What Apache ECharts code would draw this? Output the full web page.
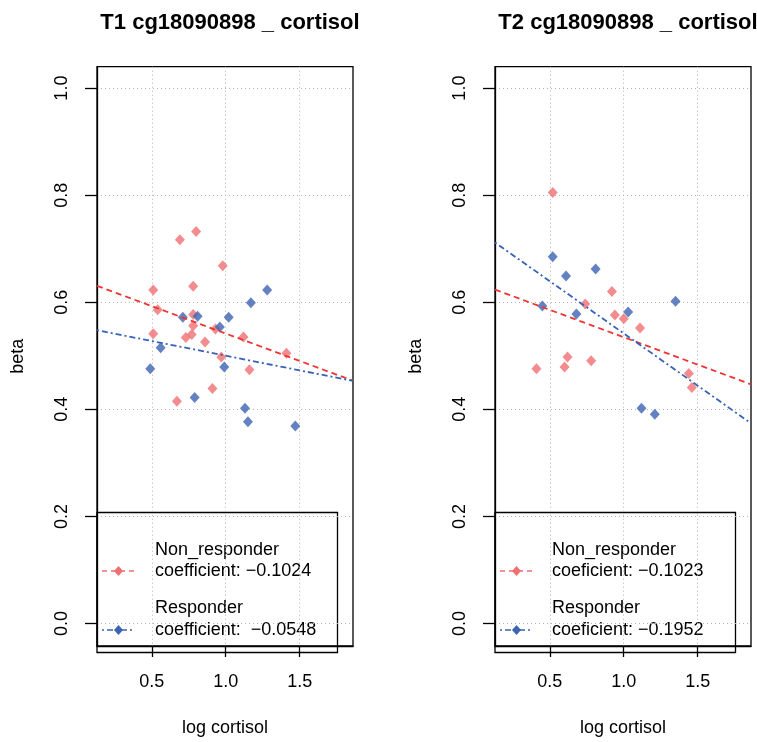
<!DOCTYPE html>
<html>
<head>
<meta charset="utf-8">
<script src="https://cdn.jsdelivr.net/npm/echarts@6/dist/echarts.min.js"></script>
<style>
  html, body { margin: 0; padding: 0; background: #fff; }
  #chart { width: 757px; height: 742px; }
</style>
</head>
<body>
<div id="chart"></div>
<script>
// tick labels
const xTicks = [0.5, 1.0, 1.5];
const yTicks = [0.0, 0.2, 0.4, 0.6, 0.8, 1.0];
const titles = ['T1 cg18090898 _ cortisol', 'T2 cg18090898 _ cortisol'];

// T1 points
const t1NonX = [0.80, 0.69, 0.98, 0.51, 0.78, 0.54, 0.78, 0.78, 0.51, 0.77, 0.73, 0.86, 0.93, 1.12, 1.41, 0.97, 1.16, 0.91, 0.67];
const t1NonY = [0.732, 0.717, 0.668, 0.623, 0.630, 0.586, 0.577, 0.556, 0.541, 0.540, 0.534, 0.526, 0.550, 0.535, 0.505, 0.498, 0.474, 0.439, 0.415];
const t1ResX = [1.28, 1.17, 0.71, 0.81, 1.02, 0.96, 0.56, 0.49, 0.99, 0.79, 1.13, 1.15, 1.47];
const t1ResY = [0.623, 0.599, 0.572, 0.574, 0.572, 0.554, 0.515, 0.476, 0.479, 0.422, 0.402, 0.377, 0.369];

// T2 points
const t2NonX = [0.52, 0.92, 0.74, 0.94, 1.00, 1.11, 0.62, 0.78, 0.41, 0.60, 1.44, 1.46];
const t2NonY = [0.805, 0.620, 0.597, 0.576, 0.569, 0.552, 0.498, 0.491, 0.476, 0.479, 0.467, 0.441];
const t2ResX = [0.52, 0.81, 0.61, 0.45, 0.68, 1.03, 1.35, 1.12, 1.21];
const t2ResY = [0.685, 0.662, 0.649, 0.593, 0.578, 0.582, 0.602, 0.402, 0.391];

// regression lines [non_responder, responder]
const t1Intercept = [0.644, 0.555];
const t1Slope = [-0.1024, -0.0548];
const t2Intercept = [0.637, 0.737];
const t2Slope = [-0.1023, -0.1952];

const t1Legend = ['coefficient: \u22120.1024', 'coefficient:  \u22120.0548'];
const t2Legend = ['coeficient: \u22120.1023', 'coeficient: \u22120.1952'];

const X_MIN = 0.13, X_MAX = 1.86;
const Y_MIN = -0.042, Y_MAX = 1.04;

const RED = '#ef6f72';
const BLUE = '#3d63b2';
const RED_LINE = '#f03434';
const BLUE_LINE = '#3762b8';
const FONT = '"Liberation Sans", Arial, sans-serif';

const zip = (xs, ys) => xs.map((x, i) => [x, ys[i]]);
const abline = (a, b) => [[X_MIN, a + b * X_MIN], [X_MAX, a + b * X_MAX]];

const panelLeft = [97, 495];
const gridWidth = 256;
const gridLine = { show: true, lineStyle: { color: '#b4b4b4', type: [1, 3], width: 1 } };

function xAxisFor(i) {
  return {
    type: 'value', gridIndex: i, min: X_MIN, max: X_MAX,
    name: 'log cortisol', nameLocation: 'middle', nameGap: 73,
    nameTextStyle: { fontSize: 18, color: '#000', fontFamily: FONT },
    axisLine: { show: true, onZero: false, lineStyle: { color: '#000', width: 1.3 } },
    axisTick: { show: true, customValues: xTicks, length: 11, lineStyle: { color: '#000', width: 1.3 } },
    axisLabel: { customValues: xTicks, formatter: v => v.toFixed(1), fontSize: 18, color: '#000', margin: 27, fontFamily: FONT },
    splitLine: gridLine
  };
}

function yAxisFor(i) {
  return {
    type: 'value', gridIndex: i, min: Y_MIN, max: Y_MAX,
    name: 'beta', nameLocation: 'middle', nameGap: 70, nameRotate: 90,
    nameTextStyle: { fontSize: 18, color: '#000', fontFamily: FONT },
    axisLine: { show: true, onZero: false, lineStyle: { color: '#000', width: 1.3 } },
    axisTick: { show: true, customValues: yTicks, length: 12, lineStyle: { color: '#000', width: 1.3 } },
    axisLabel: { customValues: yTicks, rotate: 90, formatter: v => v.toFixed(1), fontSize: 18, color: '#000', margin: 26, fontFamily: FONT },
    splitLine: gridLine
  };
}

function pointSeries(i, data, color) {
  return {
    type: 'scatter', xAxisIndex: i, yAxisIndex: i, data,
    symbol: 'diamond', symbolSize: [10, 11],
    itemStyle: { color }, z: 3, silent: true
  };
}

function lineSeries(i, data, color, dash) {
  return {
    type: 'line', xAxisIndex: i, yAxisIndex: i, data,
    symbol: 'none', lineStyle: { color, width: 1.8, type: dash }, z: 4, silent: true
  };
}

function legendGraphics(left, sampleX, textX, labels) {
  const top = 512.5, bottom = 652.5, right = left + 240.5;
  const font = '18px ' + FONT;
  const els = [{
    type: 'rect', z: -1,
    shape: { x: left, y: top, width: right - left, height: bottom - top },
    style: { fill: '#fff', stroke: '#000', lineWidth: 1.3 }
  }];
  const rows = [
    { name: 'Non_responder', coef: labels[0], y1: 550, y2: 571, color: RED, dash: [5, 4] },
    { name: 'Responder', coef: labels[1], y1: 608, y2: 630, color: BLUE, dash: [2, 3, 6, 3] }
  ];
  rows.forEach(r => {
    els.push({
      type: 'line', z: -1,
      shape: { x1: sampleX, y1: r.y2, x2: sampleX + 33, y2: r.y2 },
      style: { stroke: r.color, lineWidth: 1.5, lineDash: r.dash }
    });
    const cx = sampleX + 16.5, cy = r.y2;
    els.push({
      type: 'polygon', z: -1,
      shape: { points: [[cx, cy - 5], [cx + 4.5, cy], [cx, cy + 5], [cx - 4.5, cy]] },
      style: { fill: r.color }
    });
    els.push({ type: 'text', z: -1, x: textX, y: r.y1, style: { text: r.name, font, fill: '#000', verticalAlign: 'middle' } });
    els.push({ type: 'text', z: -1, x: textX, y: r.y2, style: { text: r.coef, font, fill: '#000', verticalAlign: 'middle' } });
  });
  return els;
}

const chart = echarts.init(document.getElementById('chart'), null, { renderer: 'canvas' });
chart.setOption({
  backgroundColor: '#fff',
  animation: false,
  title: titles.map((t, i) => ({
    text: t, left: panelLeft[i] + gridWidth / 2, top: 7, textAlign: 'center',
    textStyle: { fontSize: 22, fontWeight: 'bold', color: '#000', fontFamily: FONT }
  })),
  grid: panelLeft.map(l => ({
    left: l, width: gridWidth, top: 66.7, height: 586,
    show: true, borderColor: '#000', borderWidth: 1.3, backgroundColor: 'transparent'
  })),
  xAxis: [xAxisFor(0), xAxisFor(1)],
  yAxis: [yAxisFor(0), yAxisFor(1)],
  graphic: [
    ...legendGraphics(97, 102, 155, t1Legend),
    ...legendGraphics(495, 500, 552, t2Legend)
  ],
  series: [
    pointSeries(0, zip(t1NonX, t1NonY), RED),
    pointSeries(0, zip(t1ResX, t1ResY), BLUE),
    lineSeries(0, abline(t1Intercept[0], t1Slope[0]), RED_LINE, [6, 4]),
    lineSeries(0, abline(t1Intercept[1], t1Slope[1]), BLUE_LINE, [2, 3, 6, 3]),
    pointSeries(1, zip(t2NonX, t2NonY), RED),
    pointSeries(1, zip(t2ResX, t2ResY), BLUE),
    lineSeries(1, abline(t2Intercept[0], t2Slope[0]), RED_LINE, [6, 4]),
    lineSeries(1, abline(t2Intercept[1], t2Slope[1]), BLUE_LINE, [2, 3, 6, 3])
  ]
});
window.addEventListener('resize', () => chart.resize());
</script>
</body>
</html>
